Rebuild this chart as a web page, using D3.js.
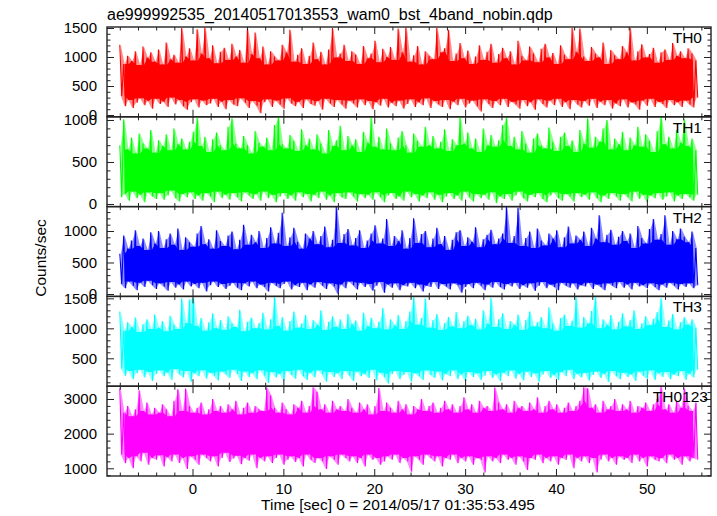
<!DOCTYPE html>
<html><head><meta charset="utf-8">
<script src="https://cdn.jsdelivr.net/npm/d3@7"></script>
<style>body{margin:0;background:#fff}svg text{font-family:"Liberation Sans",Arial,Helvetica,sans-serif}</style>
</head><body>
<svg id="c" width="717" height="516"></svg>
<script>
// ---- data (counts/sec, evenly binned from t=-8 s to t=55.6 s) ----
const tStart = -8.0, tEnd = 55.6;
const th0 = [1210,330,880,150,1020,260,930,120,1100,210,860,290,1180,170,990,240,1080,110,920,280,
1130,190,870,230,1250,140,960,300,1040,180,900,260,1500,150,1010,90,1150,220,940,270,
1480,130,1060,250,1510,170,980,200,1200,280,890,140,1090,230,1160,100,950,260,1230,180,
1010,150,1120,290,900,210,1490,120,1050,240,1420,160,980,30,1180,220,870,270,1100,140,
1010,250,940,180,1210,110,1080,290,1470,200,920,150,1040,230,1150,120,880,270,1020,190,
1250,160,960,240,1090,90,870,280,1130,200,1500,140,990,260,1060,180,1210,110,930,250,
1100,200,1040,130,880,270,1190,170,980,240,1060,100,1280,220,910,160,1140,280,1000,130,
1170,210,950,150,1490,250,1080,110,1510,190,920,270,1030,140,1190,220,870,170,1100,290,
1020,120,960,240,1500,180,1080,140,1150,260,1470,100,930,230,1060,170,1240,280,980,130,
1110,200,880,250,1010,150,1200,60,950,270,1090,190,1230,120,900,240,1050,170,1160,280,
980,140,1100,230,870,180,1280,110,1020,260,940,150,1180,220,1060,90,910,270,1140,190,
1230,130,990,250,1070,170,880,280,1200,140,1040,220,960,100,1500,260,1090,180,1490,130,
1010,240,930,160,1170,280,1060,120,990,230,1250,170,880,260,1120,110,1030,200,960,150,
1190,270,1080,130,1500,220,940,180,1100,90,1220,250,990,160,1050,280,1160,140,900,230,
1080,190,1130,120,950,260,1240,170,1020,220,1100,140,980,250,1150,180,1060,130,940,300];
const th1 = [700,80,1010,120,650,40,790,150,600,70,840,110,720,20,660,140,880,90,610,60,
760,130,690,50,830,100,640,160,900,70,710,30,780,120,650,80,740,140,860,60,
1030,100,690,40,800,130,620,90,770,20,850,150,700,70,640,110,920,50,1020,130,
720,80,660,30,810,140,700,100,600,60,870,120,730,40,680,150,790,70,640,110,
940,20,1040,90,710,130,660,60,820,100,750,40,630,140,890,80,700,120,780,30,
650,110,830,70,720,150,600,50,880,100,690,20,760,130,930,80,640,60,810,140,
700,90,770,30,620,120,860,70,730,110,1030,50,680,140,800,80,650,20,900,100,
720,130,640,60,790,90,870,40,700,150,610,80,840,120,750,30,680,100,920,70,
700,140,810,50,660,110,740,20,890,90,630,130,770,60,700,100,1040,40,720,150,
850,80,660,30,780,120,620,70,900,110,700,50,820,140,680,10,760,90,940,60,
1030,120,690,40,800,100,650,150,870,70,720,30,610,110,780,80,840,130,700,60,
660,20,910,100,740,140,630,70,800,40,850,120,690,90,760,30,620,130,880,80,
720,110,1020,50,670,140,800,70,740,20,900,100,1000,60,650,130,780,90,710,40,
860,120,640,80,790,30,700,150,920,60,680,110,830,20,750,100,620,70,870,130,
1040,50,710,90,800,140,660,30,880,100,730,60,1010,120,690,80,780,40,640,110];
const th2 = [640,160,930,90,720,200,850,130,1010,60,760,180,880,110,700,210,980,140,800,80,
1000,170,730,120,870,50,960,190,780,100,1040,150,700,70,900,200,820,120,750,160,
960,90,1080,180,790,40,870,140,720,200,1010,110,840,160,760,80,930,130,990,180,
710,100,860,60,1100,170,780,120,940,200,820,90,1000,150,730,110,890,40,1060,180,
800,130,970,90,1290,160,760,200,900,70,1050,140,830,110,720,180,960,60,880,150,
1000,100,790,190,920,130,1070,80,740,170,860,120,1380,0,810,150,950,90,1030,200,
770,140,890,70,1010,180,730,110,850,160,960,50,1090,130,800,190,880,20,1190,150,
760,100,920,170,840,60,1010,140,720,120,890,180,1200,90,810,150,950,40,1000,130,
740,110,880,190,1050,80,790,160,920,120,700,70,860,170,980,140,1010,20,760,110,
900,160,830,90,1060,180,740,130,870,60,940,150,1020,100,790,190,880,110,960,70,
1380,160,810,120,920,180,1370,80,760,140,890,100,990,170,730,50,1040,130,850,190,
770,90,960,150,880,110,1010,60,740,180,900,130,1070,100,800,170,930,70,860,140,
990,120,760,180,1050,80,880,150,1250,110,820,60,940,170,1020,130,780,90,910,190,
1000,100,840,150,960,70,730,180,1080,120,890,140,800,90,1030,170,1190,110,860,60,
950,150,1250,100,780,180,1000,130,870,70,1040,160,910,110,820,170,990,90,730,140];
const th3 = [1280,330,960,210,1100,290,1020,150,1180,250,940,310,1070,180,1150,270,990,120,1230,240,
1010,300,1120,200,950,260,1210,140,1060,320,990,230,1500,180,1090,290,1480,110,1510,250,
1040,200,1170,300,960,160,1100,260,1250,210,1000,130,1140,280,970,230,1200,170,1080,310,
1020,240,1310,120,950,280,1110,190,1180,250,1000,150,1090,300,1260,210,980,90,1150,270,
1520,180,1040,240,1190,130,960,290,1120,220,1280,160,1010,310,1080,200,1220,140,990,260,
1140,180,1060,300,1300,230,970,110,1110,270,1200,190,1020,250,1150,150,990,290,1240,210,
1070,120,1130,280,960,200,1260,240,1040,170,1180,310,1000,130,1110,260,1340,190,980,80,
1150,240,1050,290,1220,150,990,220,1120,270,1280,110,1520,250,1060,200,1170,140,1500,300,
1010,220,1140,170,1240,280,970,130,1090,240,1190,200,1030,300,1270,150,1000,230,1120,120,
1210,270,1050,190,1160,250,980,140,1300,210,1080,290,1510,170,1020,230,1150,120,1250,260,
990,200,1120,300,1060,160,1230,240,970,130,1140,280,1280,190,1030,250,1100,110,1190,230,
1000,290,1350,170,1080,220,960,140,1170,270,1230,200,1040,310,1130,150,1520,240,1010,180,
1190,260,1080,130,1290,220,1530,280,1000,170,1150,240,1060,100,1220,290,980,200,1110,150,
1250,260,1030,190,1140,230,1300,120,990,280,1080,210,1200,160,1050,300,1160,140,1270,250,
1500,190,1020,270,1130,150,1240,230,980,200,1100,290,1190,140,1060,240,1150,180,1010,310];
const th0123 = [3300,1400,2600,1150,2800,1300,2500,1000,2700,1350,3250,1200,2650,1450,2900,1100,2550,1300,2750,1250,
2600,1380,2850,1050,2700,1320,2500,1200,2950,1400,3280,1150,2650,1300,3300,980,2800,1350,2600,1250,
2750,1100,2900,1400,2550,1300,2700,1200,3000,1350,2650,1050,2800,1300,2600,1450,2850,1180,2700,1280,
2950,1360,2550,1120,2750,1300,2900,1220,2600,1400,2800,1000,2700,1300,2650,1200,3330,1350,3100,1150,
2750,1300,2600,1400,2900,1100,2700,1250,2550,1350,2850,1180,2750,1300,2950,1050,2600,1400,2800,1250,
3340,1150,3200,1300,2700,1200,2850,980,2600,1350,2950,1250,2700,1100,2800,1400,2650,1300,3000,1200,
2750,1350,2600,1150,2900,1300,2700,1050,2850,1400,2550,1250,2800,1300,3320,1100,2650,1200,2900,1350,
2750,1250,2600,1400,2950,1150,2700,1300,2850,1200,2550,900,2800,1350,2700,1250,3000,1100,2650,1400,
2800,1300,2900,1200,2600,1350,2750,1050,2950,1300,2700,1250,2850,1400,2600,1150,2800,1300,3050,1200,
2700,1350,2850,1100,2600,1300,2950,1250,2750,880,2800,1350,2650,1200,3330,1300,2900,1150,2700,1400,
2850,1250,2600,1300,2950,1100,2750,1350,2800,1200,2650,950,2900,1300,2700,1250,3050,1400,2600,1150,
2800,1300,2950,1200,2700,1350,2850,1100,2600,1300,2750,1250,2900,1400,2650,1000,2800,1300,2950,1200,
3340,1350,3300,1150,2750,1300,2850,880,2600,1250,2950,1400,2700,1200,2800,1300,3000,1100,2650,1350,
2850,1250,2700,1300,2950,1150,2600,1400,2800,1200,2750,1300,2900,1050,2650,1350,2850,1250,3000,1200,
3350,1300,2700,1150,2850,1400,2600,1250,2950,1300,2750,1100,3300,1350,2800,1200,2650,1300,2900,1250];

const panelNames = ["TH0","TH1","TH2","TH3","TH0123"];
const panelSeries = [th0, th1, th2, th3, th0123];
const panelColors = ["#ff0000","#00ff00","#0000ff","#00ffff","#ff00ff"];
const yDomains = [[-31,1517],[-31,1038],[-38,1387],[35,1532],[778,3369]];
const yMajorTicks = [[0,500,1000,1500],[0,500,1000],[0,500,1000],[500,1000,1500],[1000,2000,3000]];
const yMinorStep = [100,100,100,100,200];
const xMajorTicks = [0,10,20,30,40,50];
const xMinorStep = 2;
const titleText = "ae999992535_20140517013553_wam0_bst_4band_nobin.qdp";
const xTitle = "Time [sec] 0 = 2014/05/17 01:35:53.495";
const yTitle = "Counts/sec";

// ---- layout ----
const left = 107, right = 711, top0 = 27, bottom = 476;
const nP = panelNames.length;
const pH = (bottom - top0) / nP;
const FONT = '"Liberation Sans",Arial,Helvetica,sans-serif';

const svg = d3.select("#c");
const x = d3.scaleLinear().domain([-9.41, 57.06]).range([left, right]);
const xMinor = d3.range(-8, 57, xMinorStep).filter(v => xMajorTicks.indexOf(v) < 0);

function styleAxis(g, fs){
  g.attr("font-family", FONT).attr("font-size", fs);
  g.select(".domain").remove();
  g.selectAll("line").attr("stroke", "#222").attr("stroke-width", 1);
  g.selectAll("text").attr("fill", "#000");
}

panelNames.forEach((name, i) => {
  const pt = top0 + i * pH, pb = pt + pH;
  const y = d3.scaleLinear().domain(yDomains[i]).range([pb, pt]);
  const data = panelSeries[i];
  const dt = (tEnd - tStart) / (data.length - 1);
  const tAt = k => tStart + k * dt;

  const cid = "clip" + i;
  svg.append("clipPath").attr("id", cid).append("rect")
    .attr("x", left).attr("y", pt).attr("width", right - left).attr("height", pH);
  const g = svg.append("g").attr("clip-path", `url(#${cid})`);

  // outer envelope (light): peaks and troughs of each high/low pair
  const outer = [];
  for (let m = 0; m + 1 < data.length; m += 2) outer.push({k: m + 0.5, hi: data[m], lo: data[m + 1]});
  g.append("path").datum(outer)
    .attr("fill", panelColors[i]).attr("fill-opacity", 0.45)
    .attr("d", d3.area().x(d => x(tAt(d.k))).y0(d => y(d.lo)).y1(d => y(d.hi)));

  // dense core: envelope between neighbouring highs / lows
  const core = [];
  for (let m = 0; m + 5 < data.length; m += 2) {
    core.push({k: m + 2.5,
      hi: Math.min(data[m], data[m + 2], data[m + 4]),
      lo: Math.max(data[m + 1], data[m + 3], data[m + 5])});
  }
  g.append("path").datum(core)
    .attr("fill", panelColors[i])
    .attr("d", d3.area().x(d => x(tAt(d.k))).y0(d => y(d.lo)).y1(d => y(d.hi)));

  const line = d3.line().x((d, k) => x(tAt(k))).y(d => y(d));
  g.append("path").datum(data)
    .attr("fill", "none")
    .attr("stroke", panelColors[i])
    .attr("stroke-width", 1.1)
    .attr("d", line);

  svg.append("rect").attr("x", left).attr("y", pt).attr("width", right - left).attr("height", pH)
    .attr("fill", "none").attr("stroke", "#222").attr("stroke-width", 1.4);

  const yMinor = d3.range(Math.ceil(yDomains[i][0] / yMinorStep[i]) * yMinorStep[i], yDomains[i][1], yMinorStep[i])
    .filter(v => yMajorTicks[i].indexOf(v) < 0);

  styleAxis(svg.append("g").attr("transform", `translate(${left},0)`)
    .call(d3.axisLeft(y).tickValues(yMajorTicks[i]).tickSize(-7).tickPadding(10).tickFormat(d3.format("d"))), 15);
  styleAxis(svg.append("g").attr("transform", `translate(${left},0)`)
    .call(d3.axisLeft(y).tickValues(yMinor).tickSize(-3.5).tickFormat("")), 15);
  styleAxis(svg.append("g").attr("transform", `translate(${right},0)`)
    .call(d3.axisRight(y).tickValues(yMajorTicks[i]).tickSize(-7).tickFormat("")), 15);
  styleAxis(svg.append("g").attr("transform", `translate(${right},0)`)
    .call(d3.axisRight(y).tickValues(yMinor).tickSize(-3.5).tickFormat("")), 15);
  styleAxis(svg.append("g").attr("transform", `translate(0,${pt})`)
    .call(d3.axisTop(x).tickValues(xMajorTicks).tickSize(-7).tickFormat("")), 15);
  styleAxis(svg.append("g").attr("transform", `translate(0,${pt})`)
    .call(d3.axisTop(x).tickValues(xMinor).tickSize(-3.5).tickFormat("")), 15);
  const bx = svg.append("g").attr("transform", `translate(0,${pb})`);
  if (i === nP - 1) {
    bx.call(d3.axisBottom(x).tickValues(xMajorTicks).tickSize(-7).tickPadding(7).tickFormat(d3.format("d")));
  } else {
    bx.call(d3.axisBottom(x).tickValues(xMajorTicks).tickSize(-7).tickFormat(""));
  }
  styleAxis(bx, 15);
  styleAxis(svg.append("g").attr("transform", `translate(0,${pb})`)
    .call(d3.axisBottom(x).tickValues(xMinor).tickSize(-3.5).tickFormat("")), 15);

  svg.append("text").attr("x", i === nP - 1 ? 708 : 702).attr("y", pt + 16)
    .attr("text-anchor", "end").attr("font-size", 15.5).attr("font-family", FONT)
    .text(name);
});

svg.append("text").attr("x", left).attr("y", 20).attr("font-size", 16).attr("font-family", FONT).text(titleText);
svg.append("text").attr("x", 398).attr("y", 510).attr("text-anchor", "middle").attr("font-size", 15.5).attr("font-family", FONT).text(xTitle);
svg.append("text").attr("transform", "translate(46,258) rotate(-90)").attr("text-anchor", "middle")
  .attr("font-size", 15.5).attr("font-family", FONT).text(yTitle);
</script>
</body></html>
